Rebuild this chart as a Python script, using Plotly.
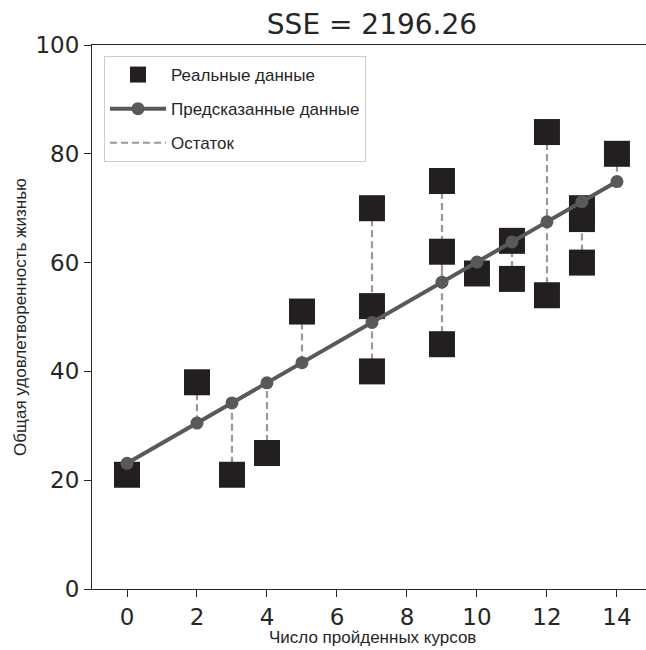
import plotly.graph_objects as go

# Data
x_actual = [0, 2, 3, 4, 5, 7, 7, 7, 9, 9, 9, 10, 11, 11, 12, 12, 13, 13, 13, 14]
y_actual = [21, 38, 21, 25, 51, 70, 52, 40, 75, 62, 45, 58, 64, 57, 84, 54, 70, 68, 60, 80]

x_pred = [0, 2, 3, 4, 5, 7, 9, 10, 11, 12, 13, 14]
y_pred = [23.1, 30.5, 34.2, 37.9, 41.6, 49.0, 56.4, 60.1, 63.8, 67.5, 71.2, 74.9]

title_text = "SSE = 2196.26"
x_label = "Число пройденных курсов"
y_label = "Общая удовлетворенность жизнью"
x_ticks = [0, 2, 4, 6, 8, 10, 12, 14]
y_ticks = [0, 20, 40, 60, 80, 100]

pred_map = dict(zip(x_pred, y_pred))
res_x, res_y = [], []
for xa, ya in zip(x_actual, y_actual):
    res_x += [xa, xa, None]
    res_y += [ya, pred_map[xa], None]

narrow = "Liberation Sans Narrow, Liberation Sans, sans-serif"
tickfont = dict(family="DejaVu Sans", size=23, color="#262626")

W, H = 646, 650
L, R, T, B = 92, 0, 45, 61
pw, ph = W - L - R, H - T - B

fig = go.Figure()
fig.add_trace(go.Scatter(
    x=res_x, y=res_y, mode="lines", name="Остаток", legendrank=3, legendgroup="c",
    line=dict(color="#999999", width=2.2, dash="7px,4px"),
))
fig.add_trace(go.Scatter(
    x=x_actual, y=y_actual, mode="markers", name="Реальные данные", legendrank=1, legendgroup="a",
    marker=dict(symbol="square", size=26, color="#231f20"),
))
fig.add_trace(go.Scatter(
    x=x_pred, y=y_pred, mode="lines+markers", name="Предсказанные данные", legendrank=2, legendgroup="b",
    line=dict(color="#595959", width=4),
    marker=dict(symbol="circle", size=13, color="#595959"),
))

fig.update_layout(
    width=W, height=H,
    margin=dict(l=L, r=R, t=T, b=B, autoexpand=False),
    plot_bgcolor="white", paper_bgcolor="white",
    title=dict(text=title_text, x=372/W, xanchor="center", xref="container",
               y=1 - 24/H, yanchor="middle", yref="container",
               font=dict(family="DejaVu Sans", size=28, color="#262626")),
    showlegend=True,
    legend=dict(x=(104-L)/pw, y=1 - (56-T)/ph, xanchor="left", yanchor="top",
                bgcolor="white", bordercolor="#cccccc", borderwidth=1,
                font=dict(family=narrow, size=17, color="#262626"),
                itemwidth=56, tracegroupgap=9),
    annotations=[
        dict(text=x_label, xref="paper", yref="paper", x=(372-L)/pw, y=-(637-(T+ph))/ph,
             xanchor="center", yanchor="middle", showarrow=False,
             font=dict(family=narrow, size=17, color="#262626")),
        dict(text=y_label, xref="paper", yref="paper", x=-(L-20)/pw, y=0.5,
             xanchor="center", yanchor="middle", showarrow=False, textangle=-90,
             font=dict(family=narrow, size=17, color="#262626")),
    ],
)
fig.update_xaxes(
    range=[-1, 14.83], tickvals=x_ticks, ticks="outside", ticklen=7, tickwidth=1.2,
    tickcolor="#262626", showline=True, linecolor="#262626", linewidth=1.2,
    mirror=True, showgrid=False, zeroline=False, tickfont=tickfont, automargin=False,
)
fig.update_yaxes(
    range=[0, 100], tickvals=y_ticks, ticks="outside", ticklen=7, tickwidth=1.2,
    tickcolor="#262626", showline=True, linecolor="#262626", linewidth=1.2,
    showgrid=False, zeroline=False, tickfont=tickfont, automargin=False,
)

fig.write_html("out.html", config={"displayModeBar": False},
               post_script="document.body.style.margin='0';document.body.style.overflow='hidden';")
